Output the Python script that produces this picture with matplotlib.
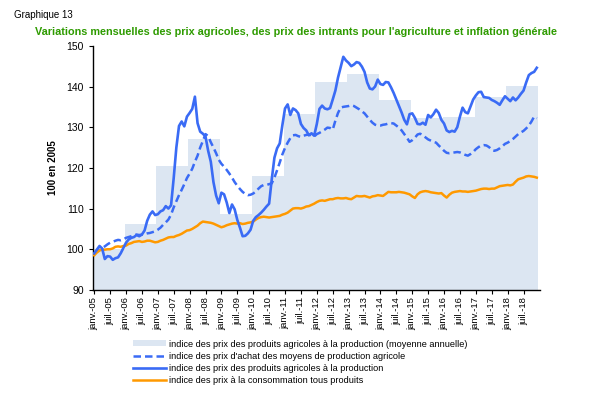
import matplotlib
matplotlib.use("Agg")
import matplotlib.pyplot as plt
import numpy as np

plt.rcParams['font.family'] = ['Liberation Sans', 'DejaVu Sans']

# monthly series, janv. 2005 -> dec. 2018
prix_agricoles = [
    99.0, 99.9, 100.8, 100.2, 97.6, 98.3, 98.2, 97.4, 97.8, 98.0, 99.0, 100.3,
    101.6, 102.4, 102.8, 103.0, 103.5, 103.2, 103.6, 104.6, 107.0, 108.5, 109.3, 108.4,
    108.6, 109.3, 109.6, 110.6, 110.0, 110.8, 117.5, 125.0, 130.3, 131.4, 130.2, 132.6,
    133.5, 134.5, 137.5, 131.0, 128.9, 128.4, 127.7, 124.2, 121.5, 116.5, 113.2, 111.3,
    113.9, 113.5, 111.5, 108.9, 111.0, 109.8, 107.2, 105.3, 103.2, 103.3, 103.9, 104.8,
    107.0, 107.9, 108.4, 109.0, 109.7, 110.5, 111.2, 117.2, 122.5, 124.8, 126.0, 130.5,
    134.6, 135.6, 133.0, 134.6, 134.2, 133.4, 130.8, 129.8, 129.2, 128.0, 128.5, 127.9,
    130.8, 134.5, 135.3, 134.6, 134.4, 134.7, 136.8, 139.0, 142.2, 144.8, 147.3, 146.4,
    145.8, 145.0, 145.4, 146.0, 145.8, 144.9, 143.6, 141.0, 139.5, 139.3, 140.0, 141.7,
    140.6, 140.4, 141.1, 141.0, 139.8, 138.4, 136.8, 135.2, 133.6, 131.8, 130.7, 133.2,
    133.4, 132.3, 130.8, 130.7, 131.1, 130.6, 133.0, 132.4, 133.2, 134.3, 133.5, 131.8,
    130.9, 129.2, 128.8, 129.1, 128.9, 130.0, 132.6, 134.8, 133.7, 133.4, 135.1, 136.8,
    137.8, 138.6, 138.7, 137.4, 137.3, 137.2, 136.7, 136.4, 136.0, 135.5, 136.6, 137.6,
    137.0, 136.4, 137.3, 136.6, 137.3, 138.2, 139.0, 141.0, 142.8, 143.3, 143.6, 144.6,
]

prix_intrants = [
    99.0, 99.4, 99.8, 100.3, 100.7, 101.2, 101.6, 101.8, 102.1, 102.3, 102.2, 102.4,
    102.8, 103.0, 103.2, 103.5, 103.6, 103.5, 103.6, 103.7, 103.9, 104.0, 104.2, 104.4,
    104.8, 105.3, 106.0, 106.6, 107.3, 108.5, 110.3, 111.8, 113.3, 114.6, 116.0, 117.5,
    118.6, 119.8, 121.5, 123.0, 125.0, 126.6, 128.3, 127.8, 126.3, 125.0, 123.6, 122.0,
    121.0, 120.3, 119.5, 118.6, 117.6, 116.5, 115.6, 114.8, 114.1, 113.6, 113.3, 113.4,
    113.7, 114.2, 114.9, 115.5, 115.8, 115.8, 116.0, 116.2, 117.6, 119.4, 121.3, 123.3,
    124.9, 126.2, 127.3, 128.0, 128.1, 127.8, 127.6, 127.9, 128.1, 128.2, 128.0, 127.7,
    128.3, 128.6, 129.0, 129.4, 129.9, 129.8, 129.4, 131.6, 133.5, 134.8, 135.0, 135.1,
    135.2, 135.4, 135.2, 134.8, 134.4, 133.9, 133.4, 132.6, 131.8, 131.1, 130.6, 130.4,
    130.4, 130.6, 130.7, 130.9, 131.0, 130.9, 130.4, 129.9, 129.2, 128.3, 127.4, 126.4,
    126.8, 127.4, 128.2, 128.4, 128.0, 127.5, 127.0, 126.7, 126.4, 126.2, 125.5, 124.9,
    124.2, 123.7, 123.6, 123.7, 123.8, 123.9, 123.8, 123.5, 123.2, 123.0, 123.4, 123.9,
    124.6, 125.1, 125.5, 125.6, 125.5, 125.1, 124.4, 124.2, 124.4, 124.8, 125.3, 125.9,
    126.2, 126.6, 127.1, 127.7, 128.3, 128.7, 129.1, 129.7, 130.4, 131.4, 132.6, 132.2,
]

prix_conso = [
    98.5, 99.2, 99.7, 99.9, 99.9, 100.0, 100.0, 100.2, 100.6, 100.7, 100.6, 100.8,
    100.9, 101.3, 101.5, 101.8, 101.9, 102.0, 101.8, 101.9, 102.1, 102.1, 101.9, 101.7,
    101.8, 102.1, 102.3, 102.6, 102.9, 103.0, 103.0, 103.3, 103.5, 103.8, 104.2, 104.6,
    104.7, 105.0, 105.4, 105.8, 106.4, 106.8, 106.7, 106.6, 106.5, 106.3, 106.0, 105.7,
    105.4, 105.6, 105.9, 106.1, 106.3, 106.4, 106.3, 106.4, 106.2, 106.3, 106.5, 106.6,
    106.8, 107.3, 107.7, 107.9, 108.0, 107.9, 107.8, 107.9, 108.0, 108.1, 108.2, 108.5,
    108.7, 109.0, 109.5, 110.0, 110.1, 110.1, 110.0, 110.2, 110.5, 110.6, 110.9, 111.2,
    111.6, 111.9, 112.0, 111.9, 112.1, 112.3, 112.3, 112.5, 112.6, 112.5, 112.5, 112.6,
    112.4, 112.3, 112.7, 113.1, 113.0, 113.0, 113.1, 112.9, 112.7, 113.0, 113.1, 113.3,
    113.2, 113.1, 113.6, 114.1, 114.0, 114.0, 114.0, 114.1, 114.0, 113.9, 113.7, 113.5,
    113.0, 112.6, 113.5, 114.0, 114.2, 114.3, 114.2, 114.0, 113.9, 113.8, 113.7, 113.8,
    113.2, 112.7, 113.4, 113.9, 114.1, 114.2, 114.3, 114.2, 114.2, 114.1, 114.2, 114.3,
    114.4, 114.6, 114.8, 114.9, 114.9, 114.8, 114.9, 114.9, 115.2, 115.5, 115.6, 115.7,
    115.8, 115.7, 115.9, 116.6, 117.2, 117.4, 117.6, 117.9, 118.0, 117.9, 117.8, 117.6,
]

annees = list(range(2005, 2019))
moyenne_annuelle = [100.0, 106.2, 120.5, 127.1, 108.6, 118.1, 133.2,
                    141.1, 143.0, 136.6, 132.3, 132.5, 137.4, 140.2]

mois_labels = []
for a in annees:
    yy = str(a)[2:]
    mois_labels += ["janv.-" + yy, "juil.-" + yy]

x = np.arange(len(prix_agricoles))

fig = plt.figure(figsize=(6.07, 3.95), dpi=100)
ax = fig.add_axes([0.153, 0.266, 0.737, 0.618])

b = ax.bar([(a - 2005) * 12 - 0.5 for a in annees], moyenne_annuelle, width=12,
           align="edge", color="#dce6f2", edgecolor="none", zorder=1)
l1, = ax.plot(x, prix_intrants, color="#3a6bf5", lw=1.8, ls=(0, (3, 1.6)), zorder=3)
l2, = ax.plot(x, prix_agricoles, color="#3a6bf5", lw=1.9, zorder=4)
l3, = ax.plot(x, prix_conso, color="#ff9900", lw=1.8, zorder=3)

ax.set_xlim(-0.5, 168.3)
ax.set_ylim(90, 150)
ax.set_yticks(range(90, 151, 10))
ax.set_xticks(np.arange(0, 168, 6))
ax.set_xticklabels(mois_labels[:28], rotation=90, fontsize=6.8)
ax.tick_params(axis="y", labelsize=7.5, length=3, width=0.8)
ax.tick_params(axis="x", length=3, width=0.8, pad=2)
for s in ["top", "right"]:
    ax.spines[s].set_visible(False)
ax.spines["left"].set_linewidth(1.0)
ax.spines["bottom"].set_linewidth(1.0)
ax.set_ylabel("100 en 2005", fontsize=7, fontweight="bold", labelpad=6)

fig.text(0.023, 0.962, "Graphique 13", fontsize=7, va="center")
fig.text(0.487, 0.92, "Variations mensuelles des prix agricoles, des prix des intrants pour l'agriculture et inflation générale",
         fontsize=7.8, fontweight="bold", color="#2e9b00", ha="center", va="center")

fig.legend([b, l1, l2, l3],
           ["indice des prix des produits agricoles à la production (moyenne annuelle)",
            "indice des prix d'achat des moyens de production agricole",
            "indice des prix des produits agricoles à la production",
            "indice des prix à la consommation tous produits"],
           loc="upper left", bbox_to_anchor=(0.212, 0.152), frameon=False,
           fontsize=6.6, handlelength=3.6, handleheight=0.6, labelspacing=0.35,
           handletextpad=0.25, borderpad=0)

fig.savefig("out.png", dpi=100)
